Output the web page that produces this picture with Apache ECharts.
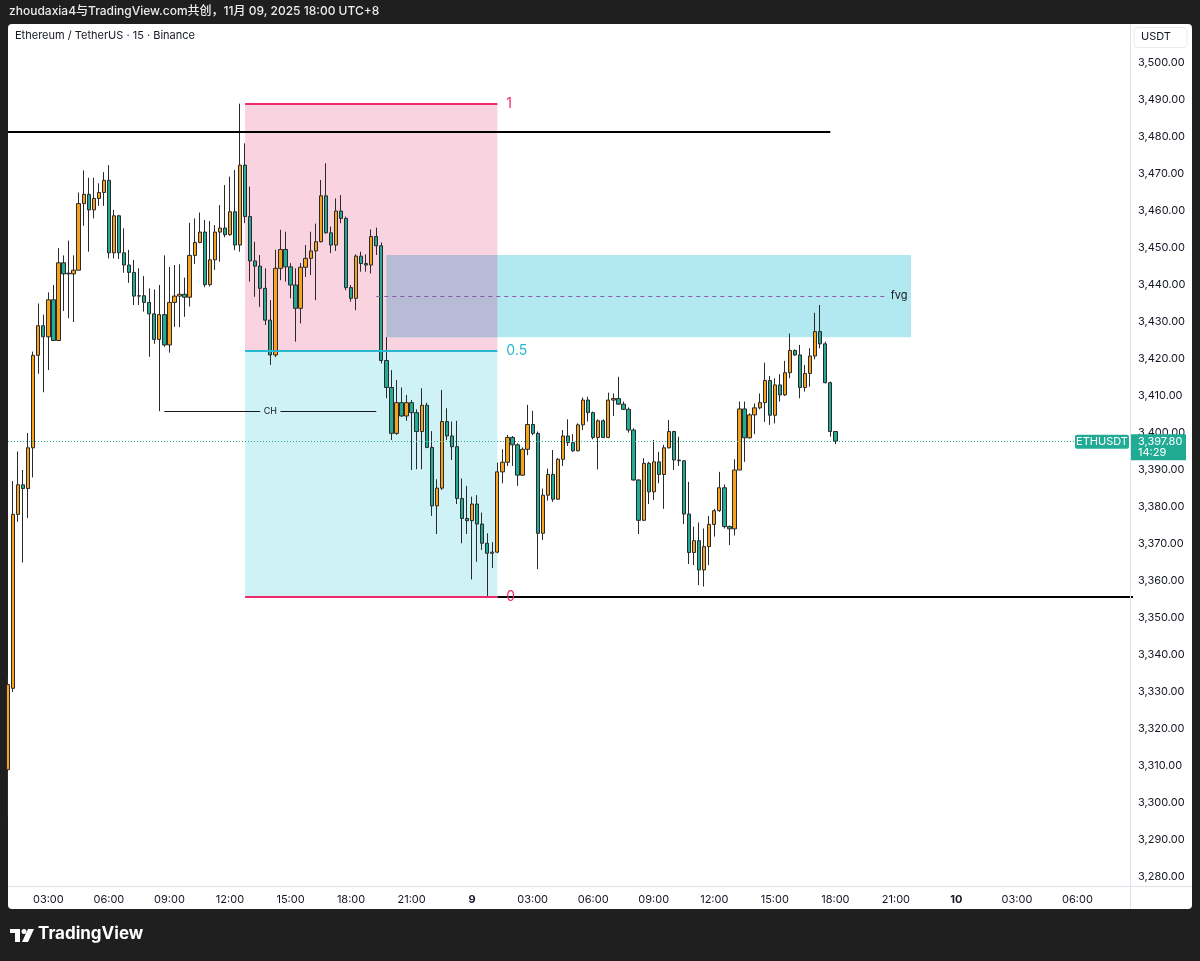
<!DOCTYPE html>
<html><head><meta charset="utf-8">
<script src="https://cdn.jsdelivr.net/npm/echarts@6/dist/echarts.min.js"></script>
<style>
html,body{margin:0;padding:0;background:#1f1f1f;width:1200px;height:961px;overflow:hidden;}
#panel{position:absolute;left:8px;top:24px;width:1184px;height:885px;background:#ffffff;border-radius:4px;}
#chart{position:absolute;left:0;top:0;width:1200px;height:961px;}
</style></head><body>
<div id="panel"></div><div id="chart"></div>
<script>
// ---- data (15m bars, Nov 8 01:00 -> Nov 9 18:00, UTC+8) ----
const opens = [
3309,3331,3378,3386,3385,3396,3421,3429,3426,3436,
3425,3446,3443,3443,3444,3462,3464.5,3460.3,3463.4,3465,
3468.3,3448.7,3458.7,3448.7,3445.4,3443.4,3437,3437.1,3435.3,3432.2,
3425.3,3432,3423.8,3435.3,3437,3437.5,3436.7,3448,3451.5,3454.3,
3440.1,3446.8,3454.3,3455.4,3453.6,3459.8,3450.8,3472.4,3458.5,3446.5,
3445.1,3439.1,3430.5,3421.1,3444.5,3449.6,3444.9,3440,3433.7,3444.8,
3447.2,3449.2,3451.7,3464.1,3454.1,3450.8,3460,3458,3439.3,3436.4,
3447.8,3445.8,3445.4,3453.1,3450.6,3419.6,3412.3,3399.9,3408.2,3404.6,
3408.2,3405.5,3400.4,3407.5,3396.1,3380.3,3385.1,3403.1,3399.2,3396.3,
3382.3,3376.9,3376.3,3380.8,3375.4,3370.2,3367.5,3367.8,3389.5,3392.1,
3398.8,3396.8,3388.6,3395.6,3402.3,3399.9,3372.9,3383.2,3388.8,3382.1,
3392.9,3399.2,3397.4,3395.2,3402.2,3408.9,3405.5,3398.8,3403.3,3398.8,
3408.9,3409.3,3407.8,3406.4,3400.8,3387.3,3376.4,3391.8,3384.1,3392.2,
3388.8,3396,3400.4,3392.7,3392.5,3378.1,3367.7,3370.9,3363,3369.3,
3375.3,3379,3385.2,3374.7,3374.1,3390,3406.5,3398.7,3404.9,3406.8,
3408.2,3414.2,3404.8,3413,3410.3,3416.3,3422.3,3421.1,3412.3,3416.1,
3420.8,3427.4,3424.1,3413.6,3400.4];
const closes = [
3332,3378,3386,3385,3396,3421,3429,3426,3436,3425,
3446,3443,3443.2,3444,3462,3464.5,3460.3,3463.4,3465,3468.3,
3448.7,3458.7,3448.7,3445.4,3443.4,3437,3437.1,3435.3,3432.2,3425.3,
3432,3423.8,3435.3,3437,3437.5,3436.7,3448,3451.5,3454.3,3440.1,
3446.8,3454.3,3455.4,3453.6,3459.8,3450.8,3472.4,3458.5,3446.5,3445.1,
3439.1,3430.5,3421.1,3444.5,3449.6,3444.9,3440,3433.7,3444.8,3447.2,
3449.2,3451.7,3464.1,3454.1,3450.8,3460,3458,3439.3,3436.4,3447.8,
3445.8,3445.4,3453.1,3450.6,3419.6,3412.3,3399.9,3408.2,3404.6,3408.2,
3405.5,3400.4,3407.5,3396.1,3380.3,3385.1,3403.1,3399.2,3396.3,3382.3,
3376.9,3376.3,3380.8,3375.4,3370.2,3367.5,3367.8,3389.5,3392.1,3398.8,
3396.8,3388.6,3395.6,3402.3,3399.9,3372.9,3383.2,3388.8,3382.1,3392.9,
3399.2,3397.4,3395.2,3402.2,3408.9,3405.5,3398.8,3403.3,3398.8,3408.9,
3409.3,3407.8,3406.4,3400.8,3387.3,3376.4,3391.8,3384.1,3392.2,3388.8,
3396,3400.4,3392.7,3392.5,3378.1,3367.7,3370.9,3363,3369.3,3375.3,
3379,3385.2,3374.7,3374.1,3390,3406.5,3398.7,3404.9,3406.8,3408.2,
3414.2,3404.8,3413,3410.3,3416.3,3422.3,3421.1,3412.3,3416.1,3420.8,
3427.4,3424.1,3413.6,3400.4,3397.8];
const highs = [
3334,3387,3395,3390,3400,3422,3435,3432,3438,3440,
3450,3448,3452,3448,3465,3471,3469,3469,3467.5,3470.5,
3472.4,3460.3,3459,3455.3,3449.5,3446.8,3444.5,3442.4,3439.1,3438.8,
3440,3448,3444.9,3445.4,3445.6,3442,3456.8,3458,3459.6,3457.6,
3457.3,3456.2,3461.6,3467,3469.3,3471.1,3489,3478.3,3466.6,3451.7,
3448.1,3444.5,3435.9,3449.5,3454.9,3454.4,3445.9,3444.5,3445.9,3450.8,
3454.4,3456.6,3468.4,3472.9,3455.8,3463.4,3464.3,3458.5,3440,3448.3,
3449,3448.3,3455,3455.5,3451.5,3425.9,3417,3414.3,3412.3,3410.3,
3408.9,3406.4,3412.1,3408.2,3400.5,3387.5,3411.6,3406.7,3403.1,3403.3,
3387.7,3385.7,3382.8,3383.2,3378.5,3372.9,3370.5,3392,3395.6,3399.5,
3399.2,3397.2,3396.1,3407.6,3406,3400.4,3385,3390.4,3395.4,3393.2,
3400.8,3403.7,3399.7,3402.6,3409.6,3409.8,3405.8,3403.7,3403.7,3410.9,
3410.7,3415.2,3408.5,3406.9,3401.3,3387.5,3393.2,3392.2,3398.1,3394.9,
3396.8,3403.5,3400.6,3399,3392.7,3386.8,3374.7,3375.8,3374.2,3377.6,
3379.5,3389.5,3386.1,3375,3392.9,3408.5,3408.5,3405.3,3408,3410.7,
3419,3415.4,3414.8,3415.9,3419.5,3426.9,3422.6,3423.8,3418.4,3422.9,
3432.5,3434.6,3424.7,3413.9,3400.4];
const lows = [
3296,3330,3376,3365,3377,3388,3416,3411,3417,3425,
3425,3433,3431,3430,3444,3456,3449,3458,3461.4,3461.4,
3447.2,3447.2,3447,3443.3,3440.6,3434.6,3434.6,3432.8,3420.6,3424.1,
3405.9,3423.3,3421.7,3428.7,3428.6,3431.4,3434.2,3445.7,3451.3,3439.4,
3439.6,3444.1,3446.3,3452.9,3453.3,3449.4,3449,3456.7,3440.9,3436.8,
3434.1,3429.2,3418.4,3420.5,3441.3,3440.9,3436.4,3424.7,3429.6,3442.2,
3442.7,3435.9,3451.5,3453.9,3448.6,3449.2,3456.7,3438.6,3435.5,3433.2,
3443.6,3443.6,3443.1,3448.1,3418.8,3409.4,3398.1,3399.5,3404.4,3403.3,
3390,3390.2,3390.2,3395.9,3377.6,3372.7,3384.6,3398.1,3392.7,3380.8,
3370.2,3372.7,3360.4,3365.2,3368.4,3355.7,3363.5,3367.5,3386.4,3391.1,
3391.1,3385.7,3388.4,3394,3399.4,3363.2,3371.1,3381.7,3381.4,3381.9,
3391.1,3396.5,3394.9,3395,3400.8,3403.1,3398.3,3390.2,3398.6,3398.6,
3404.6,3407.6,3406.2,3400.1,3387.1,3372.7,3376.2,3380.8,3381.9,3386.4,
3379.5,3395.8,3390,3391.1,3375.4,3364.6,3364.3,3358.9,3358.5,3364.3,
3372,3378.7,3374.2,3369.7,3372.3,3390,3392.2,3398.5,3399.7,3406.4,
3403,3402.2,3402.6,3408.5,3410,3414.8,3420.8,3409.4,3411.2,3412.5,
3419.9,3422.9,3413.4,3399,3397];
const tickLabels = ['03:00','06:00','09:00','12:00','15:00','18:00','21:00','9',
  '03:00','06:00','09:00','12:00','15:00','18:00','21:00','10','03:00','06:00'];
const priceTicksStep = 10;
// drawing levels
const fibHigh = 3489, fibLow = 3355.7, fibMid = 3422.35;
const topLevel = 3481.4;
const fvgTop = 3448.1, fvgBottom = 3425.9, fvgMid = 3437;
const chLevel = 3405.9;
const lastPrice = closes[closes.length - 1];
const countdown = '14:29';
const symbolName = 'ETHUSDT';

// slot categories: 224 quarter-hour slots starting Nov 8 01:00
const slotCount = 224;
const categories = [];
for (let i = 0; i < slotCount; i++) {
  const m = 60 + i * 15;
  const day = 8 + Math.floor(m / 1440);
  const hh = Math.floor((m % 1440) / 60), mm = m % 60;
  categories.push(day + ' ' + String(hh).padStart(2,'0') + ':' + String(mm).padStart(2,'0'));
}
const ohlc = opens.map((o, i) => [o, closes[i], lows[i], highs[i]]);

const FONT = 'Inter, "Noto Sans CJK SC", sans-serif';
const chart = echarts.init(document.getElementById('chart'), null, {renderer: 'canvas'});

function seg(x1, x2, y, style, label) {
  return [{coord: [x1, y], lineStyle: style, label: label || {show: false}}, {coord: [x2, y]}];
}
const pink = '#ee2a6a', cyan = '#25b8d0';

const option = {
  backgroundColor: 'transparent',
  animation: false,
  textStyle: {fontFamily: FONT},
  grid: {left: 8, top: 24, width: 1125, height: 862, containLabel: false},
  xAxis: {
    type: 'category', data: categories, boundaryGap: false,
    axisLine: {show: false},
    axisTick: {show: false}, splitLine: {show: false},
    axisLabel: {
      color: '#131722', fontSize: 11, margin: 8, fontFamily: FONT,
      interval: (idx) => idx >= 8 && (idx - 8) % 12 === 0 && (idx - 8) / 12 < tickLabels.length,
      formatter: (v, idx) => {
        const t = tickLabels[(idx - 8) / 12];
        if (t === undefined) return '';
        return (t.indexOf(':') < 0) ? '{b|' + t + '}' : t;
      },
      rich: {b: {fontWeight: 'bold', fontSize: 11, color: '#131722', fontFamily: FONT}}
    }
  },
  yAxis: {
    type: 'value', position: 'right', scale: true,
    min: 3277.57, max: 3510.54,
    minInterval: priceTicksStep, maxInterval: priceTicksStep, splitNumber: 23,
    axisLine: {show: false},
    axisTick: {show: false}, splitLine: {show: false},
    axisLabel: {
      color: '#131722', fontSize: 11, margin: 5, fontFamily: FONT,
      showMinLabel: false, showMaxLabel: false,
      formatter: (v) => {
        if (v > 3505 || Math.abs(v / 10 - Math.round(v / 10)) > 1e-6) return '';
        return v.toLocaleString('en-US', {minimumFractionDigits: 2, maximumFractionDigits: 2});
      }
    }
  },
  series: [
    {
      type: 'line', data: [], z: 1, silent: true,
      markArea: {
        silent: true,
        data: [
          [{coord: [47, fibHigh], itemStyle: {color: '#f9d3e0'}}, {coord: [97, fibMid]}],
          [{coord: [47, fibMid], itemStyle: {color: '#cef2f6'}}, {coord: [97, fibLow]}],
          [{coord: [75, fvgTop], itemStyle: {color: '#b2e9f1'}}, {coord: [179, fvgBottom]}],
          [{coord: [75, fvgTop], itemStyle: {color: '#b7bbd5'}}, {coord: [97, fvgBottom]}]
        ]
      }
    },
    {
      type: 'candlestick', name: 'ETHUSDT', z: 3, data: ohlc, barWidth: 3.8,
      itemStyle: {color: '#f7a21b', color0: '#22ab94', borderColor: '#2a2a2a', borderColor0: '#2a2a2a', borderWidth: 1}
    },
    {
      type: 'line', data: [], z: 5, silent: true,
      markLine: {
        silent: true, symbol: ['none', 'none'], animation: false,
        label: {show: false},
        data: [
          seg(0, 163, topLevel, {color: '#000000', width: 2, type: 'solid'}),
          seg(97, 223, fibLow, {color: '#000000', width: 2, type: 'solid'}),
          seg(47, 97, fibHigh, {color: pink, width: 2, type: 'solid'},
              {show: true, position: 'end', formatter: '1', color: pink, fontSize: 14, distance: 9, fontFamily: FONT}),
          seg(47, 97, fibMid, {color: cyan, width: 2, type: 'solid'},
              {show: true, position: 'end', formatter: '0.5', color: cyan, fontSize: 14, distance: 9, fontFamily: FONT}),
          seg(47, 97, fibLow, {color: pink, width: 2, type: 'solid'},
              {show: true, position: 'end', formatter: '0', color: pink, fontSize: 14, distance: 9, fontFamily: FONT}),
          seg(73, 174, fvgMid, {color: '#8c5aa5', width: 1, type: [4, 4]},
              {show: true, position: 'end', formatter: 'fvg', color: '#131722', fontSize: 11, distance: 5, fontFamily: FONT}),
          seg(31, 50, chLevel, {color: '#131722', width: 1, type: 'solid'}),
          seg(54, 73, chLevel, {color: '#131722', width: 1, type: 'solid'}),
          [{coord: [0, lastPrice], lineStyle: {color: '#22ab94', width: 1, type: [1, 2]}}, {coord: [223, lastPrice]}]
        ]
      },
      markPoint: {
        silent: true, symbol: 'circle', symbolSize: 1,
        itemStyle: {color: 'rgba(0,0,0,0)'},
        label: {show: true, position: 'inside', formatter: 'CH', color: '#131722', fontSize: 9, fontFamily: FONT},
        data: [{coord: [52, chLevel]}]
      }
    }
  ]
};
chart.setOption(option);

// annotations in screen space
const py = chart.convertToPixel({yAxisIndex: 0}, lastPrice);
const priceText = lastPrice.toLocaleString('en-US', {minimumFractionDigits: 2, maximumFractionDigits: 2});
chart.setOption({
  graphic: [
    {type: 'text', left: 9, top: 5, z: 100, style: {text: 'zhoudaxia4与TradingView.com共创，11月 09, 2025 18:00 UTC+8', fill: '#ededed', font: '500 12px ' + FONT}},
    {type: 'text', left: 15, top: 30, z: 100, style: {text: 'Ethereum / TetherUS · 15 · Binance', fill: '#131722', font: '11px ' + FONT}},
    {type: 'line', z: 50, shape: {x1: 1130.5, y1: 24, x2: 1130.5, y2: 909}, style: {stroke: '#e0e3eb', lineWidth: 1}},
    {type: 'line', z: 50, shape: {x1: 8, y1: 886.5, x2: 1192, y2: 886.5}, style: {stroke: '#e0e3eb', lineWidth: 1}},
    {type: 'rect', z: 100, shape: {x: 1134, y: 27.5, width: 53, height: 20, r: 3}, style: {fill: '#ffffff', stroke: '#e9ebf0', lineWidth: 1}},
    {type: 'text', z: 101, left: 1141, top: 31, style: {text: 'USDT', fill: '#131722', font: '11px ' + FONT}},
    {type: 'rect', z: 100, shape: {x: 1075, y: py - 6.5, width: 54, height: 14, r: 2}, style: {fill: '#22ab94'}},
    {type: 'text', z: 101, x: 1102, y: py + 0.5, style: {text: symbolName, fill: '#ffffff', font: '11px ' + FONT, align: 'center', verticalAlign: 'middle'}},
    {type: 'rect', z: 100, shape: {x: 1131, y: py - 7, width: 55, height: 26}, style: {fill: '#22ab94'}},
    {type: 'text', z: 101, x: 1138, y: py + 0.5, style: {text: priceText, fill: '#ffffff', font: '11px ' + FONT, verticalAlign: 'middle'}},
    {type: 'text', z: 101, x: 1138, y: py + 11.5, style: {text: countdown, fill: '#ffffff', font: '11px ' + FONT, verticalAlign: 'middle'}},
    // TradingView logo
    {type: 'rect', z: 100, shape: {x: 10, y: 929, width: 10, height: 4}, style: {fill: '#ffffff'}},
    {type: 'rect', z: 100, shape: {x: 15, y: 929, width: 5, height: 13}, style: {fill: '#ffffff'}},
    {type: 'circle', z: 100, shape: {cx: 24, cy: 931.5, r: 2.5}, style: {fill: '#ffffff'}},
    {type: 'polygon', z: 100, shape: {points: [[28, 929], [34, 929], [28, 942], [22, 942]]}, style: {fill: '#ffffff'}},
    {type: 'text', z: 100, left: 38, top: 925, style: {text: 'TradingView', fill: '#ffffff', font: 'bold 17px ' + FONT}}
  ]
});
</script>
</body></html>
